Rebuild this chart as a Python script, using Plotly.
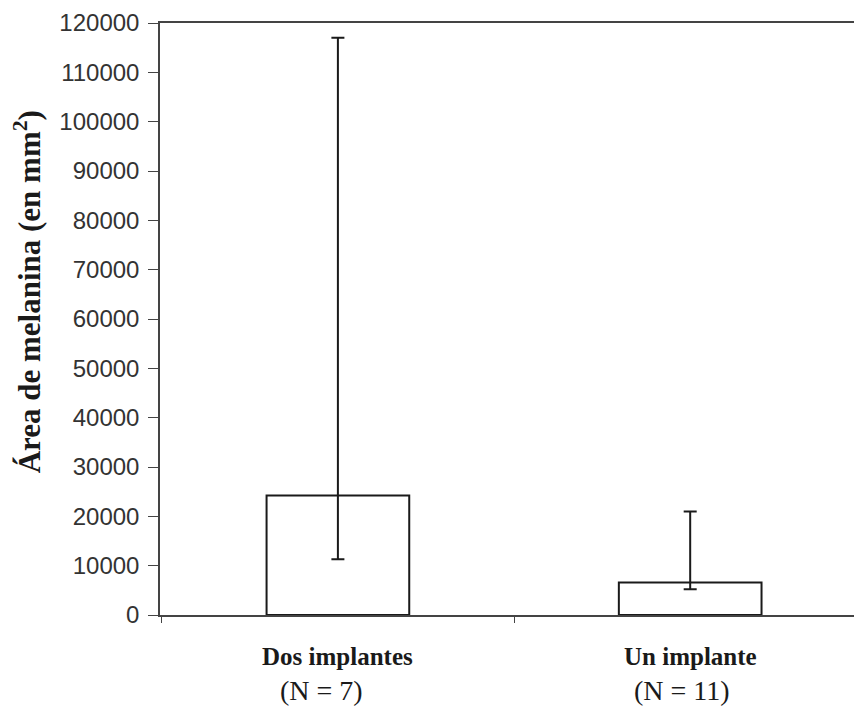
import plotly.graph_objects as go

categories = ["Dos implantes", "Un implante"]
n_labels = ["(N = 7)", "(N = 11)"]
means = [24200, 6600]
upper = [117000, 21000]
lower = [11300, 5200]
y_ticks = list(range(0, 120001, 10000))
y_title = "<b>Área de melanina (en mm<sup>2</sup>)</b>"

err_plus = [u - m for u, m in zip(upper, means)]
err_minus = [m - l for m, l in zip(means, lower)]

fig = go.Figure()
fig.add_trace(go.Bar(
    x=categories, y=means, width=0.405,
    marker=dict(color="white", line=dict(color="#1a1a1a", width=2)),
    error_y=dict(type="data", symmetric=False, array=err_plus, arrayminus=err_minus,
                 color="#1a1a1a", thickness=2, width=6.5),
    showlegend=False,
))

n_shift = [-16, -8]
for cat, nl, sh in zip(categories, n_labels, n_shift):
    fig.add_annotation(x=cat, xref="x", y=0, yref="paper", yanchor="middle",
                       yshift=-41, text="<b>" + cat + "</b>", showarrow=False,
                       font=dict(family="Liberation Serif", size=25, color="#1a1a1a"))
    fig.add_annotation(x=cat, xref="x", y=0, yref="paper", yanchor="middle",
                       yshift=-75, xshift=sh, text=nl, showarrow=False,
                       font=dict(family="Liberation Serif", size=28, color="#1a1a1a"))

fig.add_annotation(x=0, xref="paper", xanchor="center", xshift=-133,
                   y=0.545, yref="paper", yanchor="middle",
                   text=y_title, textangle=-90, showarrow=False,
                   font=dict(family="Liberation Serif", size=31, color="#1a1a1a"))

fig.update_layout(
    width=854, height=707,
    margin=dict(l=160, r=0, t=23, b=92),
    paper_bgcolor="white", plot_bgcolor="white",
    xaxis=dict(
        type="category", range=[-0.505, 1.465],
        showline=True, linecolor="#444", linewidth=1.5, mirror=True,
        showticklabels=False, ticks="outside", tickson="boundaries",
        ticklen=6, tickcolor="#444", showgrid=False, zeroline=False,
    ),
    yaxis=dict(
        range=[0, 120000], tickvals=y_ticks,
        ticktext=[str(v) for v in y_ticks],
        showline=True, linecolor="#444", linewidth=1.5,
        ticks="outside", ticklen=10, tickcolor="#444",
        ticklabelstandoff=4,
        showgrid=False, zeroline=False,
        tickfont=dict(family="Liberation Sans", size=24, color="#333"),
    ),
)

fig.write_html("out.html")
